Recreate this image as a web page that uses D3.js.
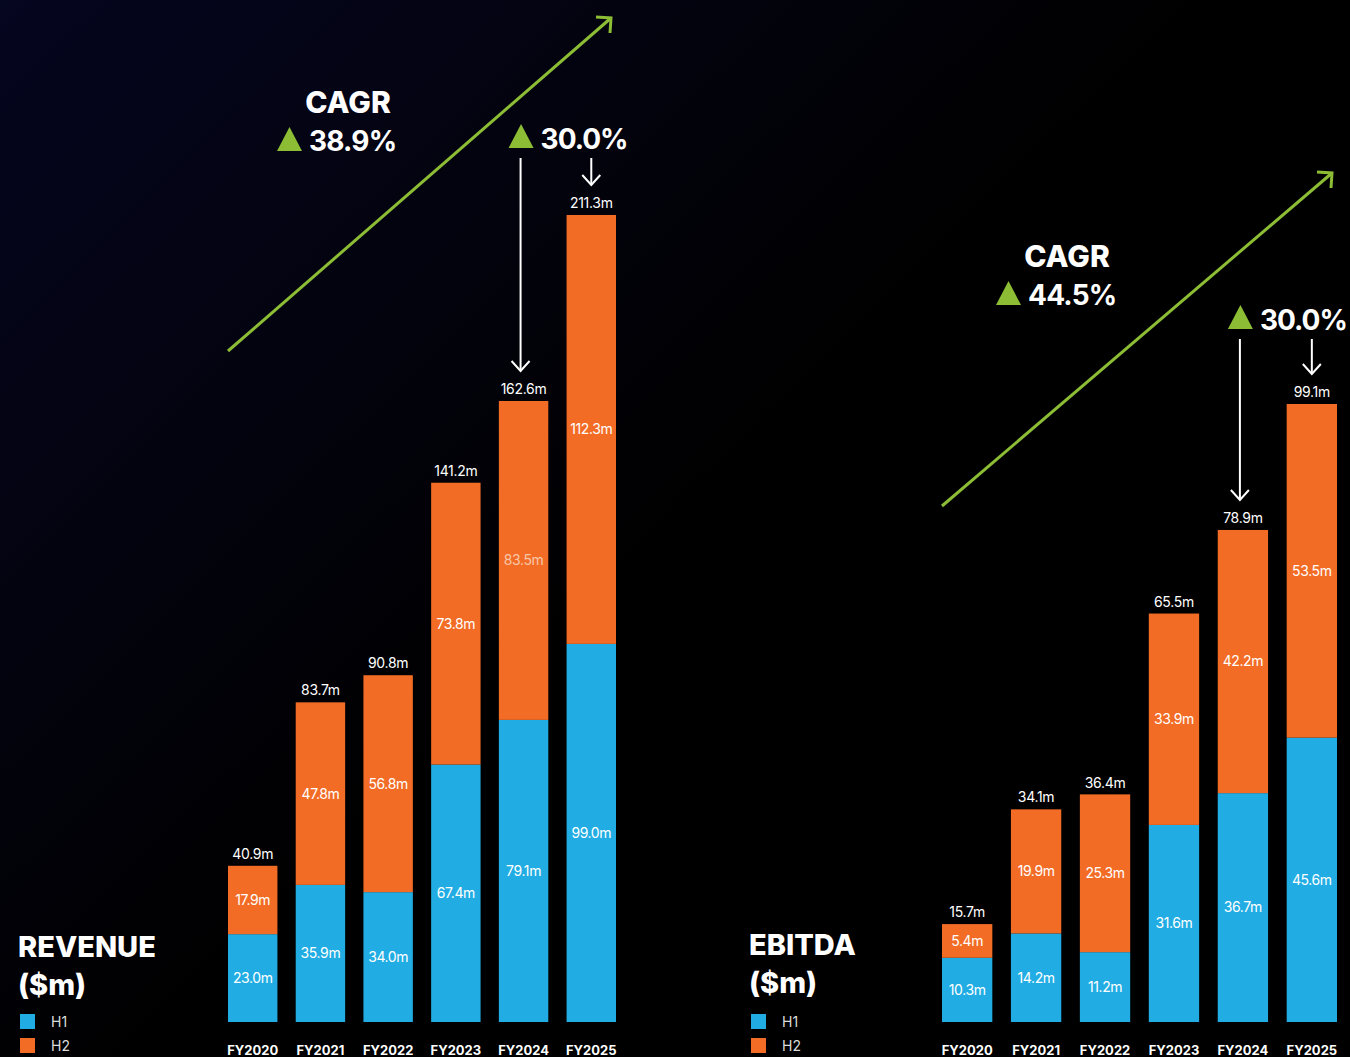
<!DOCTYPE html>
<html>
<head>
<meta charset="utf-8">
<script src="https://cdn.jsdelivr.net/npm/d3@7"></script>
<style>
    html, body { margin: 0; padding: 0; background: #000; }
    svg { display: block; }
    text { font-family: Inter, "Noto Sans", sans-serif; }
</style>
</head>
<body>
<svg id="canvas" width="1350" height="1057"></svg>
<script>
(function () {

    // Values.
    var years = ["FY2020", "FY2021", "FY2022", "FY2023", "FY2024", "FY2025"];
    var seriesNames = ["H1", "H2"];
    var revenueH1 = [23.0, 35.9, 34.0, 67.4, 79.1, 99.0];
    var revenueH2 = [17.9, 47.8, 56.8, 73.8, 83.5, 112.3];
    var revenueTotal = [40.9, 83.7, 90.8, 141.2, 162.6, 211.3];
    var ebitdaH1 = [10.3, 14.2, 11.2, 31.6, 36.7, 45.6];
    var ebitdaH2 = [5.4, 19.9, 25.3, 33.9, 42.2, 53.5];
    var ebitdaTotal = [15.7, 34.1, 36.4, 65.5, 78.9, 99.1];
    var revenueCagr = "38.9%";
    var ebitdaCagr = "44.5%";
    var yearGrowth = "30.0%";

    // Colours.
    var blue = "#21ade3";
    var orange = "#f26c26";
    var green = "#8cbd35";

    var svg = d3.select("#canvas");

    // Dark navy wash in the top-left corner fading to black.
    var defs = svg.append("defs");
    var grad = defs.append("linearGradient")
        .attr("id", "bg")
        .attr("x1", 0).attr("y1", 0)
        .attr("x2", 1).attr("y2", 0.8);
    grad.append("stop").attr("offset", 0).attr("stop-color", "#05061f");
    grad.append("stop").attr("offset", 0.3).attr("stop-color", "#03030f");
    grad.append("stop").attr("offset", 0.55).attr("stop-color", "#000");
    svg.append("rect")
        .attr("width", 1350).attr("height", 1057)
        .attr("fill", "url(#bg)");

    var panels = [
        {
            title: "REVENUE", h1: revenueH1, h2: revenueH2, total: revenueTotal, cagr: revenueCagr,
            x0: 228, x1: 616, bottom: 1022, top: 215,
            titleX: 18, titleY: 957, legendY: 1014,
            cagrX: 277, cagrY: 151, growthY: 149,
            trendY0: 351, trendY1: 18,
            faded: "FY2024"
        },
        {
            title: "EBITDA", h1: ebitdaH1, h2: ebitdaH2, total: ebitdaTotal, cagr: ebitdaCagr,
            x0: 942, x1: 1337, bottom: 1022, top: 404,
            titleX: 749, titleY: 955, legendY: 1014,
            cagrX: 996, cagrY: 305, growthY: 330,
            trendY0: 506, trendY1: 173,
            faded: null
        }
    ];

    function triangle(g, x, baseY) {
        g.append("path")
            .attr("d", "M" + x + "," + baseY + " L" + (x + 25) + "," + baseY +
                " L" + (x + 12.5) + "," + (baseY - 24) + " Z")
            .attr("fill", green);
    }

    function downArrow(g, x, y0, y1) {
        g.append("line")
            .attr("x1", x).attr("x2", x)
            .attr("y1", y0).attr("y2", y1)
            .attr("stroke", "#fff").attr("stroke-width", 2);
        g.append("path")
            .attr("d", "M" + (x - 9) + "," + (y1 - 10) + " L" + x + "," + y1 + " L" + (x + 9) + "," + (y1 - 10))
            .attr("fill", "none")
            .attr("stroke", "#fff").attr("stroke-width", 2);
    }

    panels.forEach(function (p) {
        var g = svg.append("g");

        var rows = years.map(function (y, i) {
            return { year: y, H1: p.h1[i], H2: p.h2[i], total: p.total[i] };
        });

        var x = d3.scaleBand()
            .domain(years)
            .range([p.x0, p.x1])
            .paddingInner(0.27);
        var y = d3.scaleLinear()
            .domain([0, d3.max(p.total)])
            .range([p.bottom, p.top]);
        var color = d3.scaleOrdinal().domain(seriesNames).range([blue, orange]);

        var stacked = d3.stack().keys(seriesNames)(rows);

        // Bars.
        var layers = g.selectAll("g.layer")
            .data(stacked)
            .join("g")
            .attr("class", "layer")
            .attr("fill", d => color(d.key));
        layers.selectAll("rect")
            .data(d => d)
            .join("rect")
            .attr("x", d => x(d.data.year))
            .attr("width", x.bandwidth())
            .attr("y", d => y(d[1]))
            .attr("height", d => y(d[0]) - y(d[1]));

        // Segment labels.
        stacked.forEach(function (layer) {
            g.selectAll(null)
                .data(layer)
                .join("text")
                .attr("x", d => x(d.data.year) + x.bandwidth() / 2)
                .attr("y", d => (y(d[0]) + y(d[1])) / 2)
                .attr("dy", "0.35em")
                .attr("text-anchor", "middle")
                .attr("font-size", 14)
                .attr("letter-spacing", -0.4)
                .attr("fill", d => (layer.key === "H2" && d.data.year === p.faded) ? "#f7c7a8" : "#fff")
                .text(d => d.data[layer.key].toFixed(1) + "m");
        });

        // Totals above the bars.
        g.selectAll(null)
            .data(rows)
            .join("text")
            .attr("x", d => x(d.year) + x.bandwidth() / 2)
            .attr("y", d => y(d.total) - 7)
            .attr("text-anchor", "middle")
            .attr("font-size", 14)
            .attr("letter-spacing", -0.3)
            .attr("fill", "#fff")
            .text(d => d.total.toFixed(1) + "m");

        // Year labels.
        var xAxis = d3.axisBottom(x).tickSize(0).tickPadding(0);
        var axisG = g.append("g")
            .attr("transform", "translate(0," + (p.bottom + 33) + ")")
            .call(xAxis);
        axisG.select(".domain").remove();
        axisG.selectAll("text")
            .attr("dy", 0)
            .attr("font-family", "Inter, sans-serif")
            .attr("font-size", 13)
            .attr("font-weight", 700)
            .attr("fill", "#fff");

        // Panel title.
        var title = g.append("text")
            .attr("x", p.titleX)
            .attr("y", p.titleY)
            .attr("font-size", 29)
            .attr("font-weight", 800)
            .attr("fill", "#fff");
        title.append("tspan").text(p.title);
        title.append("tspan").attr("x", p.titleX).attr("dy", 38).text("($m)");

        // Legend.
        seriesNames.forEach(function (name, i) {
            g.append("rect")
                .attr("x", p.titleX + 2)
                .attr("y", p.legendY + i * 24)
                .attr("width", 15).attr("height", 15)
                .attr("fill", color(name));
            g.append("text")
                .attr("x", p.titleX + 33)
                .attr("y", p.legendY + i * 24 + 13)
                .attr("font-size", 14)
                .attr("fill", "#ddd")
                .text(name);
        });

        // Green trend arrow.
        var tx0 = x(years[0]);
        var tx1 = x(years[years.length - 1]) + x.bandwidth() - 5;
        g.append("line")
            .attr("x1", tx0).attr("y1", p.trendY0)
            .attr("x2", tx1).attr("y2", p.trendY1)
            .attr("stroke", green).attr("stroke-width", 3);
        g.append("path")
            .attr("d", "M" + (tx1 - 15) + "," + (p.trendY1 - 1) + " L" + tx1 + "," + p.trendY1 +
                " L" + (tx1 - 1) + "," + (p.trendY1 + 15))
            .attr("fill", "none")
            .attr("stroke", green).attr("stroke-width", 3);

        // CAGR block.
        g.append("text")
            .attr("x", p.cagrX + 71)
            .attr("y", p.cagrY - 38)
            .attr("text-anchor", "middle")
            .attr("font-size", 30)
            .attr("font-weight", 800)
            .attr("fill", "#fff")
            .text("CAGR");
        triangle(g, p.cagrX, p.cagrY);
        g.append("text")
            .attr("x", p.cagrX + 32)
            .attr("y", p.cagrY)
            .attr("font-size", 28)
            .attr("font-weight", 700)
            .attr("letter-spacing", -0.8)
            .attr("fill", "#fff")
            .text(p.cagr);

        // Year-on-year growth with arrows to the last two bars.
        var cx24 = x("FY2024") + x.bandwidth() / 2;
        var cx25 = x("FY2025") + x.bandwidth() / 2;
        triangle(g, cx24 - 15, p.growthY - 1);
        g.append("text")
            .attr("x", cx24 + 17)
            .attr("y", p.growthY)
            .attr("font-size", 28)
            .attr("font-weight", 700)
            .attr("letter-spacing", -1)
            .attr("fill", "#fff")
            .text(yearGrowth);
        downArrow(g, cx24 - 3, p.growthY + 9, y(p.total[4]) - 30);
        downArrow(g, cx25, p.growthY + 9, y(p.total[5]) - 30);
    });

})();
</script>
</body>
</html>
